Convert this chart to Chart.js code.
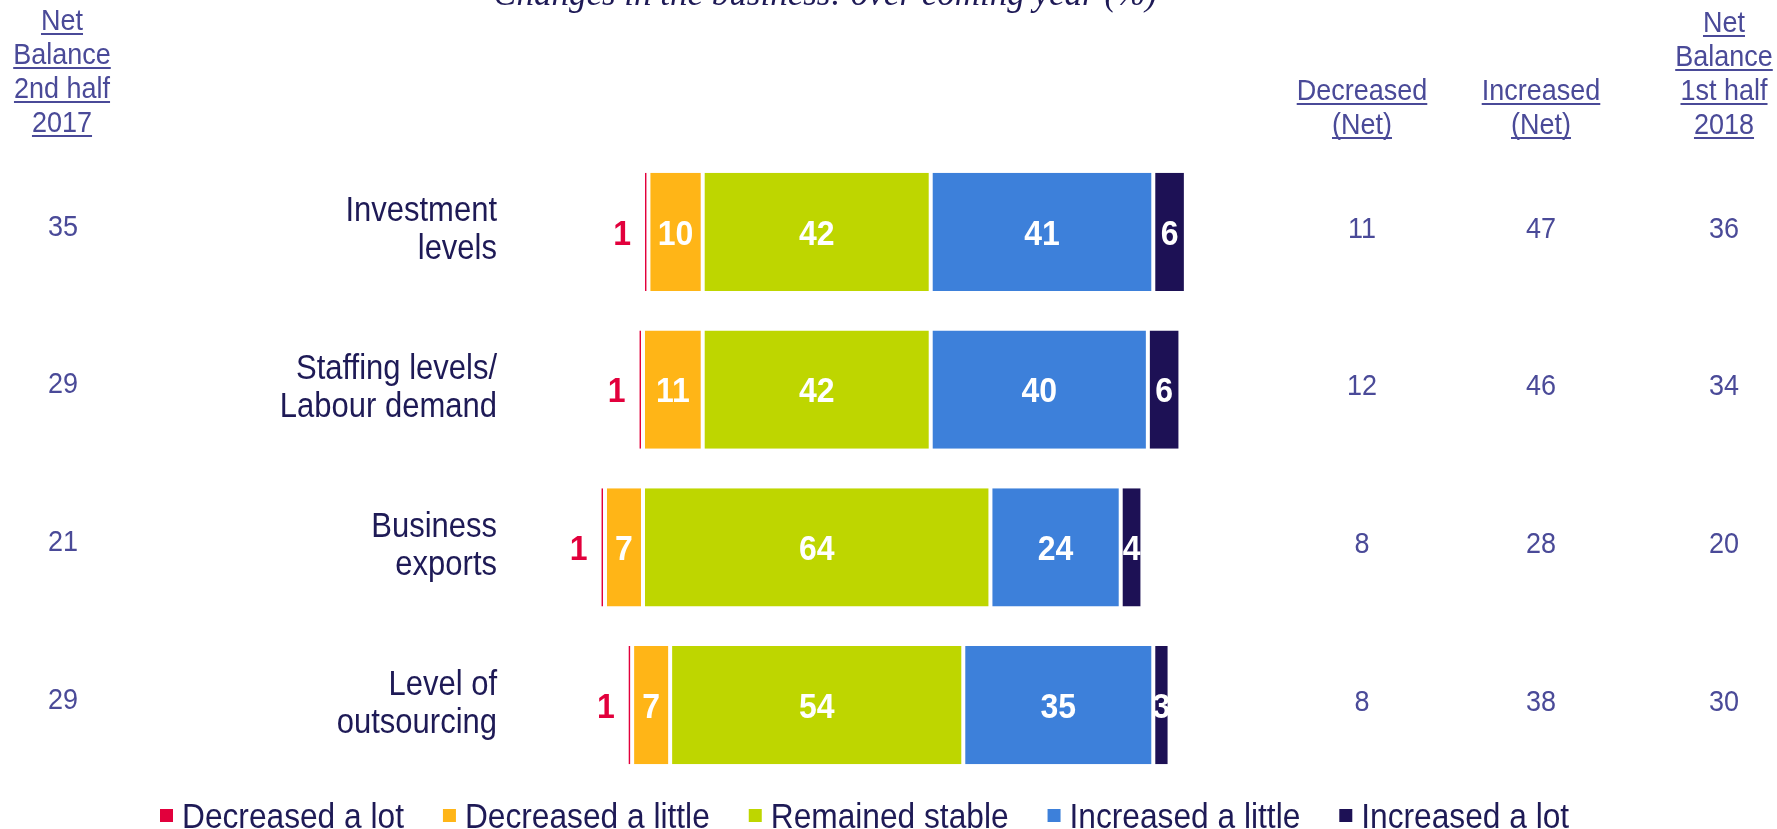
<!DOCTYPE html>
<html>
<head>
<meta charset="utf-8">
<script src="https://cdn.jsdelivr.net/npm/chart.js@4/dist/chart.umd.min.js"></script>
<style>
  html, body { margin: 0; padding: 0; background: #fff; }
  canvas { display: block; }
</style>
</head>
<body>
<canvas id="chart" width="1777" height="829"></canvas>
<script>
// survey answers, % of respondents per category
const categories = [
  ["Investment", "levels"],
  ["Staffing levels/", "Labour demand"],
  ["Business", "exports"],
  ["Level of", "outsourcing"],
];
const seriesNames = ["Decreased a lot", "Decreased a little", "Remained stable", "Increased a little", "Increased a lot"];
const decreasedLot = [1, 1, 1, 1];
const decreasedLittle = [10, 11, 7, 7];
const remainedStable = [42, 42, 64, 54];
const increasedLittle = [41, 40, 24, 35];
const increasedLot = [6, 6, 4, 3];

// side table columns
const decreasedNet = [11, 12, 8, 8];
const increasedNet = [47, 46, 28, 38];
const netBalance2017 = [35, 29, 21, 29];
const netBalance2018 = [36, 34, 20, 30];

const colors = ["#e2003c", "#ffb517", "#bed600", "#3d80da", "#1d1155"];
const NAVY = "#1e1a56";
const SLATE = "#4a4a98";
const SANS = '"Liberation Sans", Arial, sans-serif';
const STRETCH = 1.12; // text is drawn a little taller than wide

// bars diverge around the middle of "Remained stable"
const series = [decreasedLot, decreasedLittle, remainedStable, increasedLittle, increasedLot];
const ranges = series.map(() => []);
categories.forEach((_, i) => {
  let start = -(remainedStable[i] / 2 + decreasedLittle[i] + decreasedLot[i]);
  series.forEach((s, k) => {
    ranges[k].push([start, start + s[i]]);
    start += s[i];
  });
});

// draws text with its cap height centred on y
function capText(ctx, str, x, y, size, weight, color, align) {
  ctx.save();
  ctx.font = `${weight} ${size}px ${SANS}`;
  ctx.fillStyle = color;
  ctx.textAlign = align;
  ctx.textBaseline = "alphabetic";
  ctx.translate(x, y);
  ctx.scale(1, STRETCH);
  ctx.fillText(str, 0, size * 0.358);
  ctx.restore();
}

function header(ctx, lines, cx, firstBaseline) {
  ctx.save();
  ctx.font = `27px ${SANS}`;
  ctx.fillStyle = SLATE;
  ctx.strokeStyle = SLATE;
  ctx.textAlign = "center";
  ctx.textBaseline = "alphabetic";
  ctx.lineWidth = 2;
  lines.forEach((line, j) => {
    const by = firstBaseline + j * 34;
    ctx.save();
    ctx.translate(cx, by);
    ctx.scale(1, STRETCH);
    ctx.fillText(line, 0, 0);
    ctx.restore();
    const w = ctx.measureText(line).width;
    ctx.beginPath();
    ctx.moveTo(cx - w / 2, by + 4);
    ctx.lineTo(cx + w / 2, by + 4);
    ctx.stroke();
  });
  ctx.restore();
}

const overlay = {
  id: "overlay",
  afterDraw(chart) {
    const ctx = chart.ctx;
    const yScale = chart.scales.y;
    ctx.save();

    // title, partly above the top edge
    ctx.font = `italic 35px "Liberation Serif", "Times New Roman", serif`;
    ctx.fillStyle = NAVY;
    ctx.textAlign = "center";
    ctx.textBaseline = "alphabetic";
    ctx.fillText("Changes in the business: over coming year (%)", 825, 5);

    header(ctx, ["Net", "Balance", "2nd half", "2017"], 62, 30);
    header(ctx, ["Decreased", "(Net)"], 1362, 100);
    header(ctx, ["Increased", "(Net)"], 1541, 100);
    header(ctx, ["Net", "Balance", "1st half", "2018"], 1724, 32);

    categories.forEach((lines, i) => {
      const cy = yScale.getPixelForValue(i);
      lines.forEach((line, j) => {
        capText(ctx, line, 497, cy - 4 + (j - (lines.length - 1) / 2) * 38, 31, "normal", NAVY, "right");
      });
      capText(ctx, String(netBalance2017[i]), 63, cy - 7, 27, "normal", SLATE, "center");
      capText(ctx, String(decreasedNet[i]), 1362, cy - 5, 27, "normal", SLATE, "center");
      capText(ctx, String(increasedNet[i]), 1541, cy - 5, 27, "normal", SLATE, "center");
      capText(ctx, String(netBalance2018[i]), 1724, cy - 5, 27, "normal", SLATE, "center");
    });

    // value labels on the segments
    series.forEach((s, k) => {
      chart.getDatasetMeta(k).data.forEach((bar, i) => {
        const left = Math.min(bar.x, bar.base);
        const mid = (bar.x + bar.base) / 2;
        if (k === 0) {
          capText(ctx, String(s[i]), left - 12, bar.y, 32, "bold", colors[0], "right");
        } else {
          capText(ctx, String(s[i]), mid, bar.y, 32, "bold", "#ffffff", "center");
        }
      });
    });

    // legend
    let lx = 160;
    const ly = 815;
    seriesNames.forEach((name, k) => {
      ctx.fillStyle = colors[k];
      ctx.fillRect(lx, ly - 6, 13, 13);
      lx += 22;
      ctx.font = `31.7px ${SANS}`;
      const w = ctx.measureText(name).width;
      capText(ctx, name, lx, ly, 31.7, "normal", NAVY, "left");
      lx += w + 39;
    });

    ctx.restore();
  },
};

new Chart(document.getElementById("chart"), {
  type: "bar",
  data: {
    labels: categories.map((c) => c.join(" ")),
    datasets: seriesNames.map((name, k) => ({
      label: name,
      data: ranges[k],
      backgroundColor: colors[k],
      borderColor: "#ffffff",
      borderWidth: { left: 2, right: 2, top: 0, bottom: 0 },
      borderSkipped: false,
      grouped: false,
      barPercentage: 0.75,
      categoryPercentage: 1,
    })),
  },
  options: {
    indexAxis: "y",
    responsive: false,
    animation: false,
    layout: { padding: { left: 491, right: 526, top: 153, bottom: 45 } },
    scales: {
      x: { display: false, min: -60, max: 80 },
      y: { display: false },
    },
    plugins: {
      legend: { display: false },
      tooltip: { enabled: false },
    },
  },
  plugins: [overlay],
});
</script>
</body>
</html>
